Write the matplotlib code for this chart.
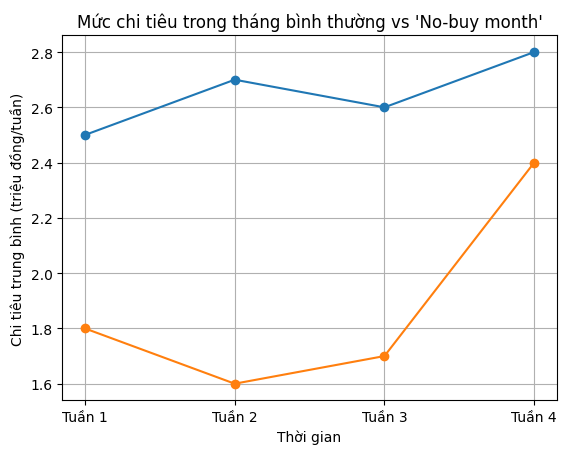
import matplotlib
matplotlib.use("Agg")
import matplotlib.pyplot as plt

weeks = ["Tuần 1", "Tuần 2", "Tuần 3", "Tuần 4"]
normal = [2.5, 2.7, 2.6, 2.8]
nobuy = [1.8, 1.6, 1.7, 2.4]

fig, ax = plt.subplots(figsize=(5.68, 4.56), dpi=100)
ax.plot(weeks, normal, marker="o", label="Tháng bình thường")
ax.plot(weeks, nobuy, marker="o", label="No-buy month")
ax.set_title("Mức chi tiêu trong tháng bình thường vs 'No-buy month'")
ax.set_xlabel("Thời gian")
ax.set_ylabel("Chi tiêu trung bình (triệu đồng/tuần)")
ax.grid(True)
fig.subplots_adjust(left=0.11, right=0.98, top=0.92, bottom=0.12)
fig.savefig("out.png")
